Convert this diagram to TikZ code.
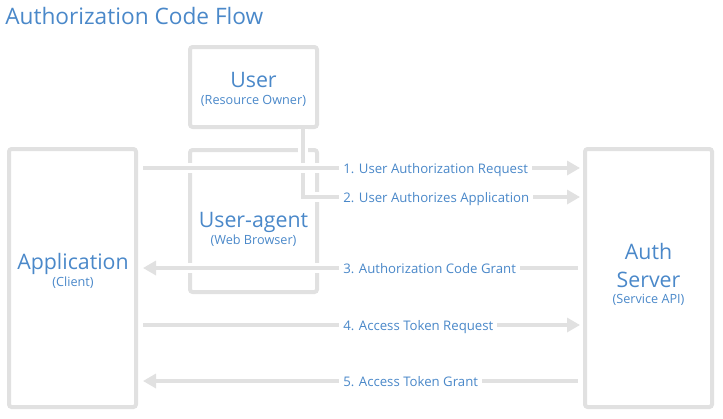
\documentclass[tikz,border=0pt]{standalone}
\usepackage{fontspec}
\setmainfont{Open Sans}
\usepackage{tikz}
\usetikzlibrary{arrows.meta}
\definecolor{boxgrey}{HTML}{E1E1E1}
\definecolor{txtblue}{HTML}{4A88C9}

\begin{document}
\begin{tikzpicture}[x=0.75pt,y=0.75pt,yscale=-1,xscale=1,
  box/.style={draw=boxgrey, line width=3pt, rounded corners=2pt, inner sep=0pt},
  bigtxt/.style={text=txtblue, font=\fontsize{16}{19}\selectfont, anchor=base, inner sep=0pt},
  smalltxt/.style={text=txtblue, font=\fontsize{9.5}{12}\selectfont, anchor=base, inner sep=0pt},
  msgtxt/.style={text=txtblue, font=\fontsize{9.9}{12}\selectfont, anchor=base west, fill=white, inner xsep=3pt, inner ysep=2pt},
  flow/.style={draw=boxgrey, line width=3pt, -{Triangle[length=9.75pt,width=10.5pt]},
    preaction={draw=white, line width=7.5pt, arrows=-}}
]
\useasboundingbox (0,0) rectangle (723,418);

%Shape: Rectangle
\node[box, minimum width=95.25pt, minimum height=60pt] (user) at (253.5,87) {};
%Shape: Rectangle
\node[box, minimum width=95.25pt, minimum height=106.5pt] (agent) at (253.5,221) {};
%Shape: Rectangle
\node[box, minimum width=95.25pt, minimum height=193.5pt] (app) at (72.5,278) {};
%Shape: Rectangle
\node[box, minimum width=95.25pt, minimum height=193.5pt] (srv) at (648.5,278) {};

% Text Node
\node[bigtxt, anchor=base west, font=\fontsize{17}{20}\selectfont] (titl) at (5,24) {Authorization Code Flow};
% Text Node
\node[bigtxt] (usert) at (253.5,87) {User};
\node[smalltxt] (userst) at (253.5,104) {(Resource Owner)};
% Text Node
\node[bigtxt] (agentt) at (253.5,227) {User-agent};
\node[smalltxt] (agentst) at (253.5,244) {(Web Browser)};
% Text Node
\node[bigtxt] (appt) at (73,269) {Application};
\node[smalltxt] (appst) at (73,286) {(Client)};
% Text Node
\node[bigtxt] (srvt) at (648.5,259) {Auth};
\node[bigtxt] (srvt2) at (648.5,287) {Server};
\node[smalltxt] (srvst) at (648.5,303) {(Service API)};

%Straight Lines
\draw[flow, shorten >=2.25pt] (user.south -| 303,0) |- (srv.west |- 0,197);
\draw[flow, shorten <=3.75pt, shorten >=2.25pt] (app.east |- 0,168) -- (srv.west |- 0,168);
\draw[flow, shorten <=3.75pt, shorten >=3.75pt] (srv.west |- 0,268) -- (app.east |- 0,268);
\draw[flow, shorten <=3.75pt, shorten >=2.25pt] (app.east |- 0,325) -- (srv.west |- 0,325);
\draw[flow, shorten <=3.75pt, shorten >=3.75pt] (srv.west |- 0,381) -- (app.east |- 0,381);

% Text Node
\node[msgtxt] (m1) at (339,173) {1. User Authorization Request};
\node[msgtxt] (m2) at (339,202) {2. User Authorizes Application};
\node[msgtxt] (m3) at (339,273) {3. Authorization Code Grant};
\node[msgtxt] (m4) at (339,330) {4. Access Token Request};
\node[msgtxt] (m5) at (339,386) {5. Access Token Grant};

\end{tikzpicture}
\end{document}
